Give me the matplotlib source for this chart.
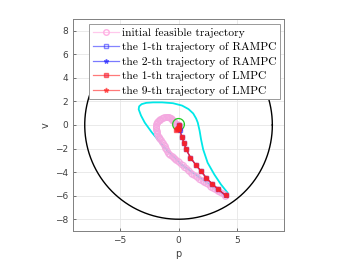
import numpy as np
import matplotlib
matplotlib.use("Agg")
import matplotlib.pyplot as plt

# ---------------- data ----------------
circle_radius = 8.0
terminal_radius = 0.5

# cyan contour (closed)
cyan_p = [4.05, 3.05, 1.64, 0.23, -1.19, -1.80, -2.30, -2.88, -3.20, -3.40, -3.36, -3.15, -2.75,
          -2.18, -1.40, -0.48, 0.30, 0.85, 1.25, 1.50, 1.64, 1.80, 1.92, 2.10, 2.48, 3.05, 3.62,
          4.18, 4.05]
cyan_v = [-6.05, -5.33, -4.34, -3.35, -1.93, -1.20, -0.60, 0.20, 0.80, 1.33, 1.58, 1.77, 1.88,
          1.92, 1.92, 1.85, 1.65, 1.35, 0.98, 0.55, 0.20, -0.50, -1.22, -2.07, -3.20, -4.20, -5.05,
          -5.75, -6.05]

# initial feasible trajectory
init_p = [4.00, 3.85, 3.70, 3.55, 3.40, 3.25, 3.10, 2.95, 2.80, 2.65, 2.50, 2.35, 2.20, 2.05,
          1.90, 1.75, 1.60, 1.45, 1.30, 1.18, 1.07, 0.93, 0.80, 0.65, 0.50, 0.36, 0.22, 0.08,
          -0.06, -0.18, -0.30, -0.40, -0.50, -0.60, -0.70, -0.80, -0.90, -0.98, -1.05, -1.12,
          -1.19, -1.27, -1.35, -1.43, -1.50, -1.57, -1.63, -1.69, -1.75, -1.80, -1.84, -1.87,
          -1.90, -1.92, -1.92, -1.91, -1.89, -1.86, -1.82, -1.76, -1.70, -1.62, -1.55, -1.44,
          -1.33, -1.22, -1.10, -1.00, -0.90, -0.83, -0.76, -0.68, -0.60, -0.52, -0.45, -0.40,
          -0.34, -0.28, -0.22, -0.16, -0.10, -0.05, 0.00]
init_v = [-6.00, -5.90, -5.80, -5.71, -5.62, -5.53, -5.45, -5.35, -5.25, -5.15, -5.05, -4.95,
          -4.85, -4.75, -4.65, -4.55, -4.45, -4.35, -4.25, -4.15, -4.05, -3.92, -3.80, -3.67,
          -3.55, -3.42, -3.30, -3.18, -3.06, -2.97, -2.88, -2.79, -2.70, -2.61, -2.52, -2.43,
          -2.35, -2.20, -2.05, -1.92, -1.79, -1.67, -1.55, -1.42, -1.30, -1.21, -1.12, -1.03,
          -0.94, -0.80, -0.65, -0.52, -0.40, -0.27, -0.15, -0.05, 0.06, 0.15, 0.25, 0.33, 0.40,
          0.46, 0.52, 0.58, 0.63, 0.66, 0.68, 0.67, 0.66, 0.65, 0.63, 0.58, 0.52, 0.45, 0.38,
          0.30, 0.20, 0.14, 0.08, 0.05, 0.02, 0.01, 0.00]

# RAMPC trajectories
rampc1_p = [4.02, 3.39, 2.86, 2.35, 1.92, 1.50, 1.02, 0.65, 0.45, 0.28, 0.10, 0.05, 0.00]
rampc1_v = [-5.98, -5.47, -4.99, -4.48, -3.91, -3.43, -2.77, -2.07, -1.50, -0.99, -0.40, -0.10, 0.00]
rampc2_p = [4.02, 3.39, 2.86, 2.35, 1.92, 1.50, 1.02, 0.65, 0.45, 0.28, 0.10, 0.08, 0.05]
rampc2_v = [-5.98, -5.47, -4.99, -4.48, -3.91, -3.43, -2.77, -2.07, -1.50, -0.99, -0.40, -0.10, 0.00]

# LMPC trajectories
lmpc1_p = [4.04, 3.39, 2.86, 2.35, 1.92, 1.50, 1.02, 0.65, 0.45, 0.28, 0.08, -0.10, -0.20, 0.00]
lmpc1_v = [-5.98, -5.47, -4.99, -4.48, -3.91, -3.43, -2.77, -2.07, -1.50, -0.99, -0.37, -0.30, -0.45, 0.00]
lmpc9_p = [4.04, 3.39, 2.86, 2.35, 1.92, 1.50, 1.02, 0.65, 0.45, 0.28, 0.08, -0.05, -0.15, 0.00]
lmpc9_v = [-5.98, -5.47, -4.99, -4.48, -3.91, -3.43, -2.77, -2.07, -1.50, -0.99, -0.37, -0.20, -0.35, 0.00]

labels = ["initial feasible trajectory", "the 1-th trajectory of RAMPC",
          "the 2-th trajectory of RAMPC", "the 1-th trajectory of LMPC",
          "the 9-th trajectory of LMPC"]

# ---------------- plot ----------------
fig = plt.figure(figsize=(3.46, 2.60), dpi=100)
ax = fig.add_axes([0.211, 0.1115, 0.610, 0.8155])

th = np.linspace(0, 2 * np.pi, 400)
ax.plot(circle_radius * np.cos(th), circle_radius * np.sin(th), color="black", lw=1.0, zorder=2)
ax.plot(cyan_p, cyan_v, color="#00e8e8", lw=1.3, zorder=2)

pink = "#f4a8e0"
ax.plot(init_p, init_v, color=pink, lw=2.0, alpha=0.5, zorder=3, solid_capstyle="round")
ax.plot(init_p, init_v, color=pink, lw=0, marker="o", ms=4.2, mfc="none",
        mec=pink, mew=0.8, alpha=0.85, zorder=3)
l0, = ax.plot([], [], color="#ffc8ec", lw=0.9, marker="o", ms=4, mfc="none", mec="#ffb0e4")
ax.plot(terminal_radius * np.cos(th), terminal_radius * np.sin(th) + 0.05,
        color="#22cc22", lw=0.9, zorder=3)
l1, = ax.plot(rampc1_p, rampc1_v, color="#3333ff", lw=0.9, marker="s", ms=3.3, mfc="none",
              alpha=0.6, zorder=4)
l2, = ax.plot(rampc2_p, rampc2_v, color="#2222ff", lw=0.9, marker="*", ms=3.3,
              alpha=0.6, zorder=4)
l3, = ax.plot(lmpc1_p, lmpc1_v, color="#ff2020", lw=0.9, marker="s", ms=3.5, mfc="#e82850",
              alpha=0.6, zorder=5)
l4, = ax.plot(lmpc9_p, lmpc9_v, color="#ff2020", lw=0.9, marker="*", ms=3.5,
              alpha=0.6, zorder=5)

ax.set_xlim(-9, 9)
ax.set_ylim(-9, 9)
ax.set_xticks([-5, 0, 5])
ax.set_yticks(np.arange(-8, 9, 2))
ax.grid(True, color="#e6e6e6", lw=0.6)
ax.set_axisbelow(True)
for s in ax.spines.values():
    s.set_color("#808080")
    s.set_linewidth(0.7)
ax.tick_params(labelsize=6.5, colors="#404040", length=2, width=0.5, direction="in")
ax.set_xlabel("p", fontsize=7, color="#404040", labelpad=3)
ax.set_ylabel("v", fontsize=7, color="#404040", labelpad=3)

leg = ax.legend([l0, l1, l2, l3, l4], labels, loc="upper center",
                bbox_to_anchor=(0.528, 0.975), prop={"family": ["cmr10", "DejaVu Serif"], "size": 8.3},
                frameon=True, fancybox=False, framealpha=1, edgecolor="#999999",
                handlelength=2.3, handletextpad=0.2, borderpad=0.3, labelspacing=0.38,
                borderaxespad=0.0)
leg.get_frame().set_linewidth(0.7)

fig.savefig("out.png", dpi=100)
